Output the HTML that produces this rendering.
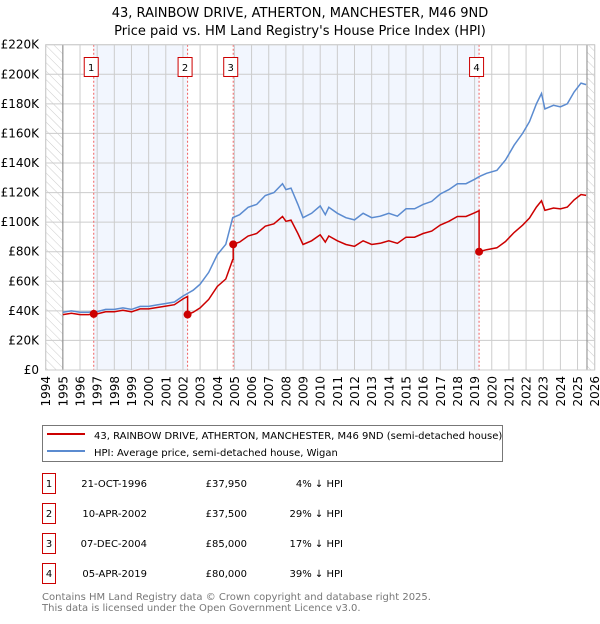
<!DOCTYPE html>
<html><head><meta charset="utf-8"><style>
body{margin:0;background:#fff;font-family:"DejaVu Sans","Liberation Sans",sans-serif;}
svg text{font-family:"DejaVu Sans","Liberation Sans",sans-serif;}
</style></head><body>
<svg id="chart" width="600" height="620" viewBox="0 0 600 620" xmlns="http://www.w3.org/2000/svg">
<defs><pattern id="hatch" width="6" height="6" patternUnits="userSpaceOnUse" patternTransform="rotate(-45)"><line x1="0" y1="0" x2="0" y2="6" stroke="#ccc" stroke-width="1"/></pattern></defs>
<text x="300" y="17" text-anchor="middle" font-size="13">43, RAINBOW DRIVE, ATHERTON, MANCHESTER, M46 9ND</text>
<text x="300" y="35" text-anchor="middle" font-size="13">Price paid vs. HM Land Registry's House Price Index (HPI)</text>
<g id="plot"></g>
<g>
<rect x="42.5" y="425.5" width="460" height="36" fill="#fff" stroke="#777"/>
<line x1="47" y1="434" x2="85" y2="434" stroke="#cc0000" stroke-width="2"/>
<text x="94" y="439" font-size="10">43, RAINBOW DRIVE, ATHERTON, MANCHESTER, M46 9ND (semi-detached house)</text>
<line x1="47" y1="451" x2="85" y2="451" stroke="#5b8bd0" stroke-width="2"/>
<text x="94" y="456" font-size="10">HPI: Average price, semi-detached house, Wigan</text>
</g>
<g id="table" font-size="10"></g>
<text x="42" y="600" font-size="10" fill="#777">Contains HM Land Registry data © Crown copyright and database right 2025.</text>
<text x="42" y="611" font-size="10" fill="#777">This data is licensed under the Open Government Licence v3.0.</text>
</svg>
<script>
const hpiYears=[1995,1995.5,1996,1996.5,1996.8,1997,1997.5,1998,1998.5,1999,1999.5,2000,2000.5,2001,2001.5,2002,2002.3,2002.6,2003,2003.5,2004,2004.5,2004.9,2005.3,2005.8,2006.3,2006.8,2007.3,2007.8,2008,2008.3,2008.7,2009,2009.5,2010,2010.3,2010.5,2011,2011.5,2012,2012.5,2013,2013.5,2014,2014.5,2015,2015.5,2016,2016.5,2017,2017.5,2018,2018.5,2019,2019.3,2019.7,2020.3,2020.8,2021.3,2021.8,2022.2,2022.6,2022.9,2023.1,2023.6,2024,2024.4,2024.8,2025.2,2025.5];
const hpiValues=[39,40,39,39,39.5,39.5,41,41,42,41,43,43,44,45,46,50,52,54,58,66,78,85,103,105,110,112,118,120,126,122,123,112,103,106,111,105,110,106,103,101.5,106,103,104,106,104,109,109,112,114,119,122,126,126,129,131,133,135,142,152,160,168,180,187,176.5,179,178,180,188,194,193];
const saleYears=[1996.8,2002.27,2004.93,2019.26];
const salePrices=[37.95,37.5,85,80];
const saleLabels=["1","2","3","4"];
const saleDates=["21-OCT-1996","10-APR-2002","07-DEC-2004","05-APR-2019"];
const salePriceText=["£37,950","£37,500","£85,000","£80,000"];
const saleDiff=["4% ↓ HPI","29% ↓ HPI","17% ↓ HPI","39% ↓ HPI"];
const yTicks=[0,20,40,60,80,100,120,140,160,180,200,220];
const xTicks=[1994,1995,1996,1997,1998,1999,2000,2001,2002,2003,2004,2005,2006,2007,2008,2009,2010,2011,2012,2013,2014,2015,2016,2017,2018,2019,2020,2021,2022,2023,2024,2025,2026];

const NS="http://www.w3.org/2000/svg";
const X=y=>45.7+(y-1994)*(594.7-45.7)/32;
const Y=v=>370-v*(370-44.7)/220;
const plot=document.getElementById('plot');
function mk(tag,attrs,parent){const e=document.createElementNS(NS,tag);for(const k in attrs)e.setAttribute(k,attrs[k]);(parent||plot).appendChild(e);return e;}
function hpiAt(t){for(let i=0;i<hpiYears.length-1;i++){if(t>=hpiYears[i]&&t<=hpiYears[i+1]){const f=(t-hpiYears[i])/(hpiYears[i+1]-hpiYears[i]);return hpiValues[i]+f*(hpiValues[i+1]-hpiValues[i]);}}return hpiValues[hpiValues.length-1];}

const bands=[[saleYears[0],saleYears[1]],[saleYears[2],saleYears[3]]];
bands.forEach(b=>{const r=mk('rect',{x:X(b[0]),y:Y(220),width:X(b[1])-X(b[0]),height:Y(0)-Y(220),fill:'#f2f6fe'});

});
let h1=mk('rect',{x:X(1994),y:Y(220),width:X(1995)-X(1994),height:Y(0)-Y(220),fill:'url(#hatch)'});


let h2=mk('rect',{x:X(2025.55),y:Y(220),width:X(2026)-X(2025.55),height:Y(0)-Y(220),fill:'url(#hatch)'});


yTicks.forEach(v=>{mk('line',{x1:X(1994),x2:X(2026),y1:Y(v),y2:Y(v),stroke:'#ccc','stroke-width':1});
const t=mk('text',{x:39,y:Y(v)+4,'text-anchor':'end','font-size':12});t.textContent='£'+(v?v+'K':'0');

});
xTicks.forEach(y=>{mk('line',{x1:X(y),x2:X(y),y1:Y(220),y2:Y(0),stroke:'#ccc','stroke-width':1});
const t=mk('text',{x:0,y:0,'text-anchor':'end','font-size':12,transform:`translate(${X(y)+4.5},376) rotate(-90)`});t.textContent=y;

});
mk('line',{x1:X(1995),x2:X(1995),y1:Y(220),y2:Y(0),stroke:'#888','stroke-width':1});
mk('line',{x1:X(2025.55),x2:X(2025.55),y1:Y(220),y2:Y(0),stroke:'#888','stroke-width':1});
saleYears.forEach(s=>mk('line',{x1:X(s),x2:X(s),y1:Y(220),y2:Y(0),stroke:'#f06060','stroke-width':1,'stroke-dasharray':'2,2'}));
const hp=mk('path',{d:hpiYears.map((y,i)=>(i?'L':'M')+X(y).toFixed(1)+','+Y(hpiValues[i]).toFixed(1)).join(''),fill:'none',stroke:'#5b8bd0','stroke-width':1.5});


let d='';
for(let s=0;s<saleYears.length;s++){const ratio=salePrices[s]/hpiAt(saleYears[s]);
const start=s===0?1995:saleYears[s];const end=s<saleYears.length-1?saleYears[s+1]:2025.5;
const pts=[start].concat(hpiYears.filter(y=>y>start&&y<end)).concat([end]);
pts.forEach((y,i)=>{d+=((d===''&&i===0)?'M':'L')+X(y).toFixed(1)+','+Y(hpiAt(y)*ratio).toFixed(1);});}
const rp=mk('path',{d,fill:'none',stroke:'#cc0000','stroke-width':1.5});


saleYears.forEach((s,i)=>{const c=mk('circle',{cx:X(s),cy:Y(salePrices[i]),r:4,fill:'#cc0000'});


const g=mk('g',{});


mk('rect',{x:X(s)-9.5,y:57.5,width:14,height:19,fill:'#fff',stroke:'#cc0000'},g);
const t=mk('text',{x:X(s)-2.5,y:71,'text-anchor':'middle','font-size':10},g);t.textContent=saleLabels[i];});
mk('rect',{x:X(1994),y:Y(220),width:X(2026)-X(1994),height:Y(0)-Y(220),fill:'none',stroke:'#ccc'});

const tb=document.getElementById('table');
saleLabels.forEach((l,i)=>{const cy=483+i*30;const g=mk('g',{},tb);


mk('rect',{x:42.5,y:cy-9.5,width:13,height:20,fill:'#fff',stroke:'#cc0000'},g);
const a=mk('text',{x:49,y:cy+4,'text-anchor':'middle'},g);a.textContent=l;
const b=mk('text',{x:147,y:cy+4,'text-anchor':'end'},g);b.textContent=saleDates[i];
const c=mk('text',{x:247,y:cy+4,'text-anchor':'end'},g);c.textContent=salePriceText[i];
const e=mk('text',{x:343,y:cy+4,'text-anchor':'end'},g);e.textContent=saleDiff[i];});
</script>
</body></html>
